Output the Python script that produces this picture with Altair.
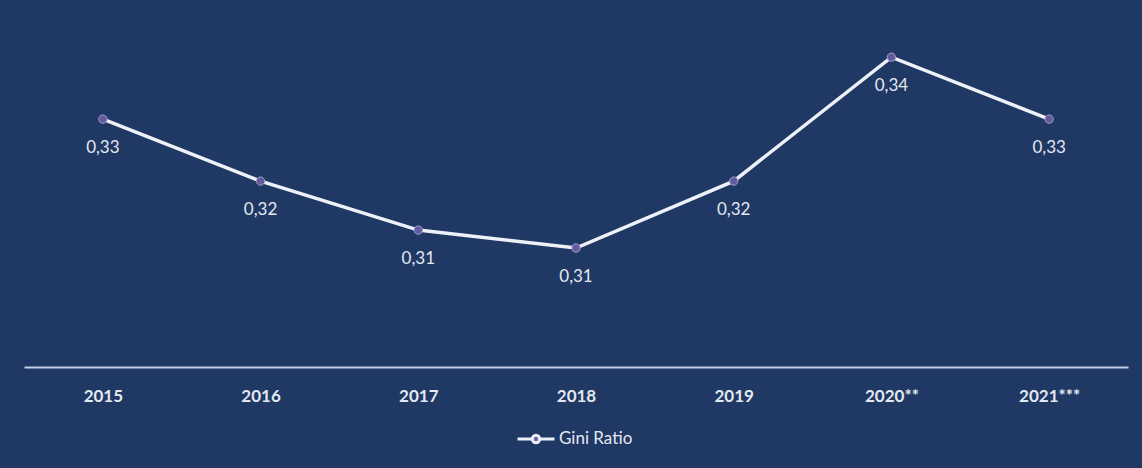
import altair as alt
import pandas as pd

years = ["2015", "2016", "2017", "2018", "2019", "2020**", "2021***"]
gini = [0.330, 0.320, 0.3121, 0.3092, 0.320, 0.340, 0.330]
labels = ["0,33", "0,32", "0,31", "0,31", "0,32", "0,34", "0,33"]
series = "Gini Ratio"

df = pd.DataFrame({"year": years, "gini": gini, "label": labels, "series": series})

BG = "#1f3864"
TXT = "#e4e8f1"
FONT = "Lato"

x = alt.X("year:N", sort=years, title=None,
          scale=alt.Scale(type="point", padding=0.5),
          axis=alt.Axis(labelAngle=0, ticks=False, grid=False, domainColor="#c5d0e6",
                        domainWidth=2, labelColor=TXT, labelFontSize=17, labelFont=FONT,
                        labelFontWeight="bold", labelPadding=21))
y = alt.Y("gini:Q", scale=alt.Scale(domain=[0.29, 0.3481], zero=False, nice=False),
          axis=None)

base = alt.Chart(df).encode(x=x, y=y)

line = base.mark_line(strokeWidth=3.5).encode(
    color=alt.Color("series:N",
                    scale=alt.Scale(domain=[series], range=["#eef1f8"]),
                    legend=alt.Legend(title=None, orient="none", legendX=492, legendY=412,
                                      symbolType="M-1,0L-0.2,0M0.2,0L1,0M0.2,0A0.2,0.2 0 1,1 -0.2,0A0.2,0.2 0 1,1 0.2,0Z",
                                      symbolSize=1369, symbolStrokeWidth=3,
                                      symbolFillColor="#6b63a6",
                                      labelColor=TXT, labelFontSize=17, labelFont=FONT,
                                      labelOffset=3, padding=0))
)

points = base.mark_circle(size=70, color="#625c9f", opacity=1, stroke="#a19ec9", strokeWidth=1)

text = base.mark_text(dy=29, baseline="middle", fontSize=17, font=FONT, color=TXT).encode(
    text="label:N"
)

chart = (line + points + text).properties(
    width=1104, height=360,
    background=BG,
    padding={"left": 24, "top": 7, "right": 14, "bottom": 101},
    autosize=alt.AutoSizeParams(type="none"),
).configure_view(strokeWidth=0)

chart.save("out.html", embed_options={"renderer": "svg", "actions": False})
